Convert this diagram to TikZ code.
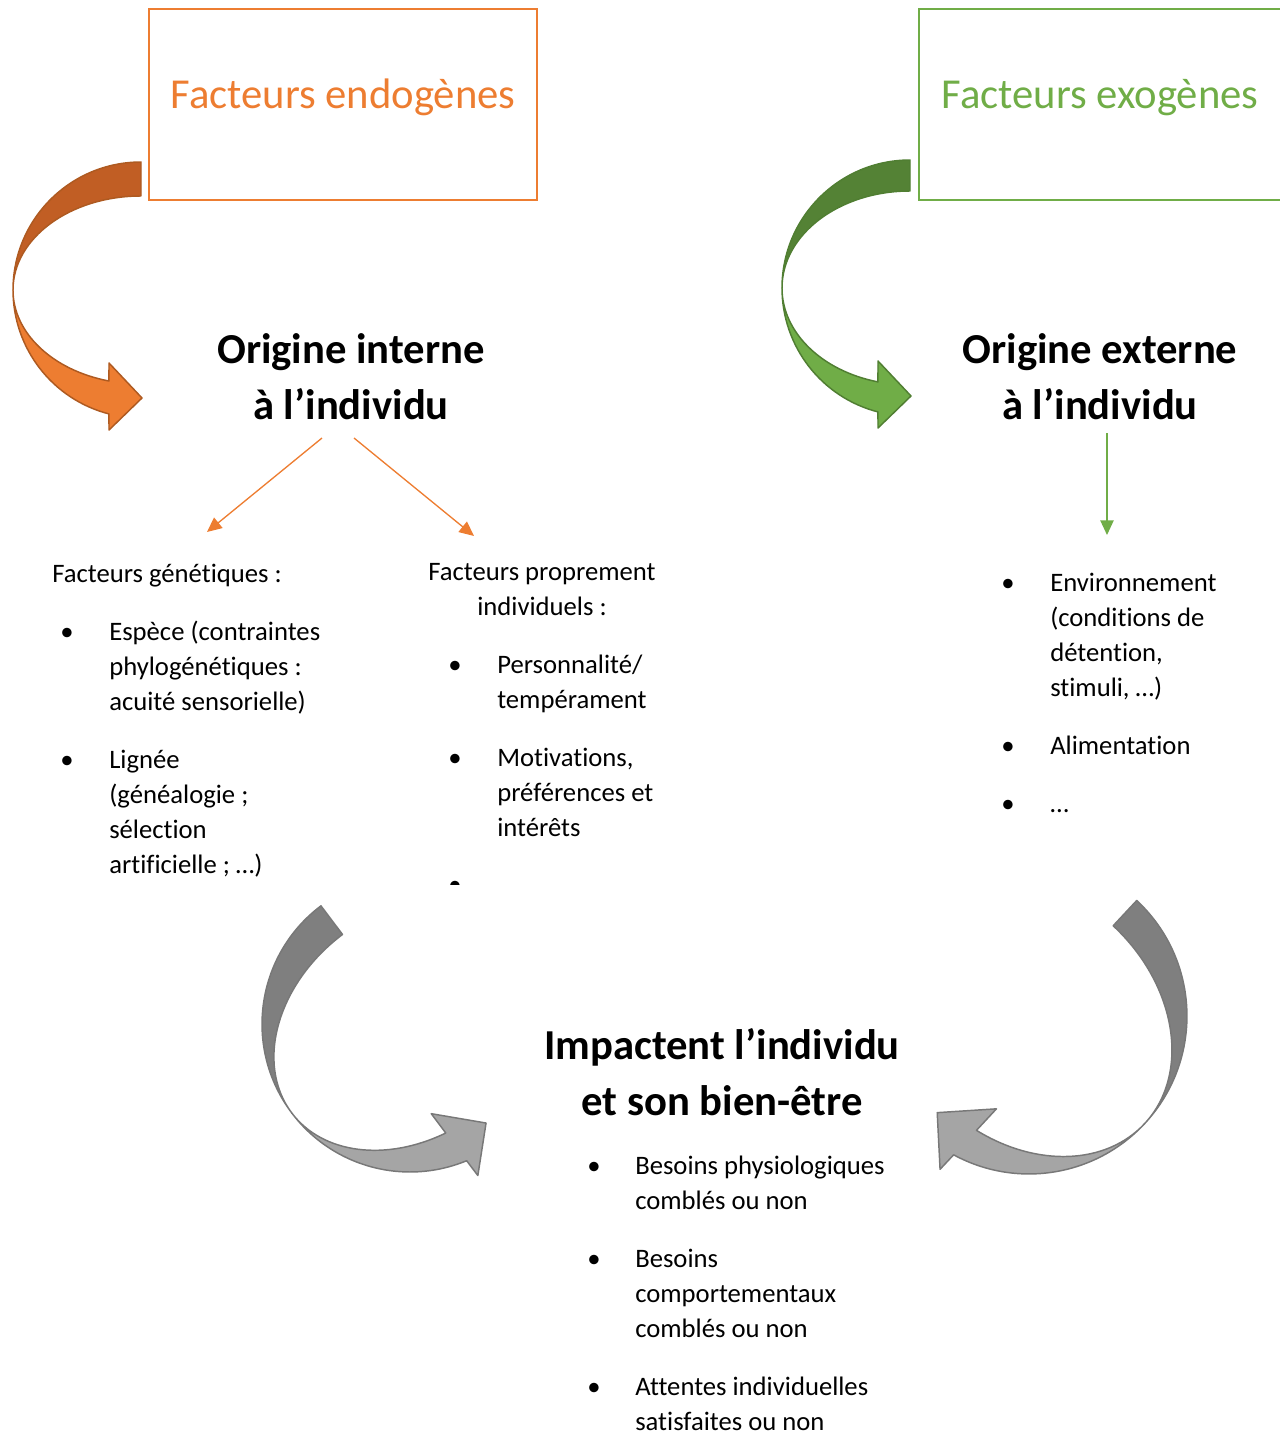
\documentclass[tikz,border=0pt]{standalone}
\usepackage{fontspec}
\setmainfont{Carlito}[Ligatures=NoCommon]
\usetikzlibrary{arrows.meta}
\definecolor{orangeclair}{RGB}{237,125,49}
\definecolor{orangefonce}{RGB}{193,94,36}
\definecolor{orangetrait}{RGB}{174,90,33}
\definecolor{vertclair}{RGB}{112,173,71}
\definecolor{vertfonce}{RGB}{84,130,53}
\definecolor{verttrait}{RGB}{80,126,50}
\definecolor{grisclair}{RGB}{165,165,165}
\definecolor{grisfonce}{RGB}{127,127,127}
\definecolor{gristrait}{RGB}{120,120,120}

% ruban courbe : partie sombre puis partie claire avec la pointe
\newcommand{\flechecourbe}[4]{%
  \filldraw[fill=#1, draw=#3, line width=1.1pt, line join=round]
    (270:128) arc[start angle=270, end angle=180, radius=128]
    arc[start angle=180, end angle=270, x radius=128, y radius=#4] -- cycle;
  \filldraw[fill=#2, draw=#3, line width=1.1pt, line join=round]
    (180:128) arc[start angle=180, end angle=104.5, radius=128]
    -- (-32,140) -- (1,108) -- (-32,73) -- (104.5:128 and #4)
    arc[start angle=104.5, end angle=180, x radius=128, y radius=#4] -- cycle;
}

\begin{document}
\begin{tikzpicture}[x=0.75pt,y=-0.75pt,
    corps/.style={anchor=base west,align=left,inner sep=0pt,font=\fontsize{20}{26.25}\selectfont},
    puce/.style={anchor=base,inner sep=0pt,font=\fontsize{20}{26.25}\selectfont},
    titre/.style={anchor=base,align=center,inner sep=0pt,font=\fontsize{32}{42}\selectfont\bfseries},
    cadre/.style={anchor=base,inner sep=0pt,font=\fontsize{32}{38}\selectfont},
    fleche/.style={line width=1pt,-{Triangle[length=11pt,width=10pt]}}]

	\useasboundingbox (0,0) rectangle (1280,1432);
	\clip (0,0) rectangle (1280,1432);

	% Cadres du haut
	\draw[orangeclair, line width=1.2pt] (149,9) rectangle (537,200);
	\draw[vertclair, line width=1.2pt] (919,9) rectangle (1290,200);
	\node[cadre, text=orangeclair] (endo) at (343,108) {Facteurs endogènes};
	\node[cadre, text=vertclair] (exo) at (1100,108) {Facteurs exogènes};

	% Grosses fleches courbes
	\begin{scope}[shift={(141,290)}]
		\flechecourbe{orangefonce}{orangeclair}{orangetrait}{94}
	\end{scope}
	\begin{scope}[shift={(910,288)}]
		\flechecourbe{vertfonce}{vertclair}{verttrait}{97}
	\end{scope}
	\begin{scope}[shift={(410,1024)}, rotate=37, scale=1.156]
		\flechecourbe{grisfonce}{grisclair}{gristrait}{97}
	\end{scope}
	\begin{scope}[shift={(1029,1016)}, xscale=-1, rotate=43, scale=1.234]
		\flechecourbe{grisfonce}{grisclair}{gristrait}{100}
	\end{scope}

	% Titres (ancre sur la derniere ligne)
	\node[titre] (interne) at (351,419) {Origine interne\\à l’individu};
	\node[titre] (externe) at (1100,419) {Origine externe\\à l’individu};
	\node[titre] (impact) at (722,1115) {Impactent l’individu\\et son bien-être};

	% Fleches fines
	\coordinate (a1) at (322,438);
	\coordinate (b1) at (207,532);
	\coordinate (a2) at (354,438);
	\coordinate (b2) at (474,536);
	\coordinate (a3) at (1107,433);
	\coordinate (b3) at (1107,535);
	\draw[fleche, orangeclair] (a1) -- (b1);
	\draw[fleche, orangeclair] (a2) -- (b2);
	\draw[fleche, vertclair] (a3) -- (b3);

	% Colonne gauche
	\node[corps] (genet) at (52,582) {Facteurs génétiques :};
	\node[puce] (p1) at (67,640) {•};
	\node[corps] (espece) at (109,710) {Espèce (contraintes\\phylogénétiques :\\acuité sensorielle)};
	\node[puce] (p2) at (67,768) {•};
	\node[corps] (lignee) at (109,873) {Lignée\\(généalogie ;\\sélection\\artificielle ; …)};

	% Colonne du milieu
	\node[corps, anchor=base, align=center] (propre) at (542,615) {Facteurs proprement\\individuels :};
	\node[puce] (p3) at (455,673) {•};
	\node[corps] (perso) at (497,708) {Personnalité/\\tempérament};
	\node[puce] (p4) at (455,766) {•};
	\node[corps] (motiv) at (497,836) {Motivations,\\préférences et\\intérêts};
	\begin{scope}
		\clip (440,879) rectangle (470,884);
		\node[puce] (p5) at (455,893) {•};
	\end{scope}

	% Colonne droite
	\node[puce] (p6) at (1008,591) {•};
	\node[corps] (envir) at (1050,696) {Environnement\\(conditions de\\détention,\\stimuli, …)};
	\node[puce] (p7) at (1008,754) {•};
	\node[corps] (alim) at (1050,754) {Alimentation};
	\node[puce] (p8) at (1008,812) {•};
	\node[corps] (etc) at (1050,812) {…};

	% Liste du bas
	\node[puce] (p9) at (594,1174) {•};
	\node[corps] (physio) at (635,1209) {Besoins physiologiques\\comblés ou non};
	\node[puce] (p10) at (594,1267) {•};
	\node[corps] (compo) at (635,1337) {Besoins\\comportementaux\\comblés ou non};
	\node[puce] (p11) at (594,1395) {•};
	\node[corps] (attentes) at (635,1430) {Attentes individuelles\\satisfaites ou non};

\end{tikzpicture}
\end{document}
